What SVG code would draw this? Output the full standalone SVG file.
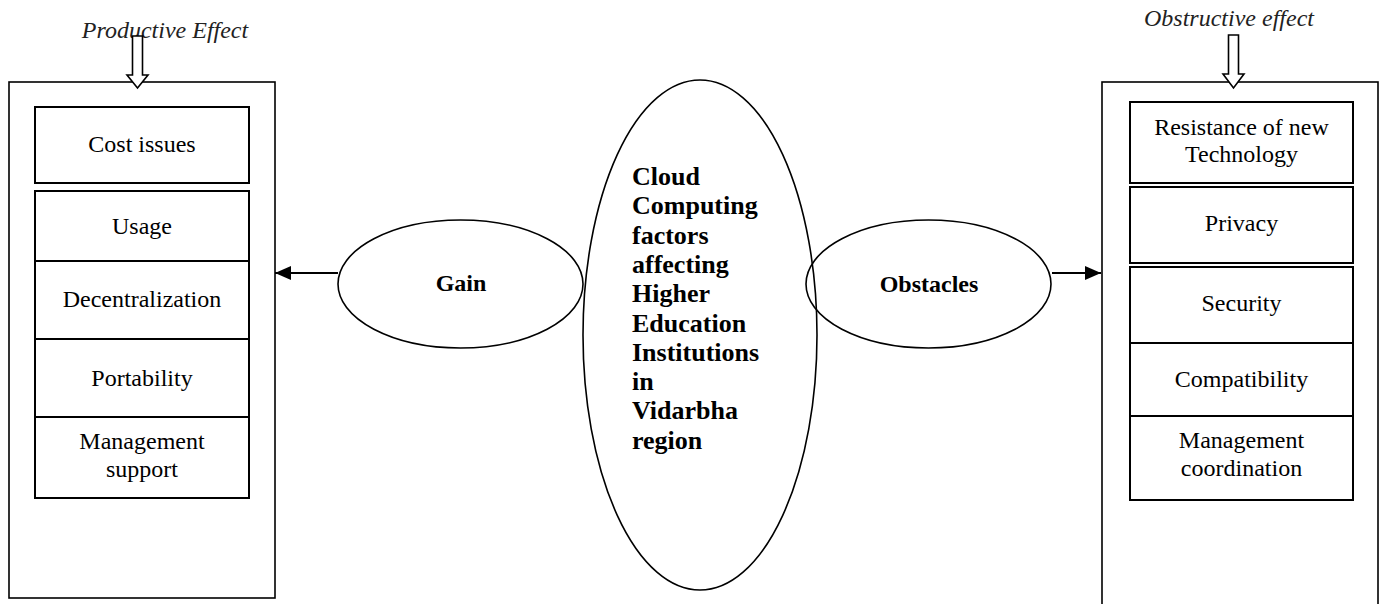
<svg xmlns="http://www.w3.org/2000/svg" width="1381" height="604" viewBox="0 0 1381 604">
  <defs>
    <style>
      .outer { fill: none; stroke: #000; stroke-width: 1.6; }
      .item { fill: #fff; stroke: #000; stroke-width: 2; }
      .oval { fill: none; stroke: #000; stroke-width: 1.6; }
      .hollow { fill: #fff; stroke: #000; stroke-width: 1.6; stroke-linejoin: miter; }
      .link { stroke: #000; stroke-width: 2.2; fill: none; }
      .t { font-family: "Liberation Serif", "Times New Roman", serif; font-size: 24px; fill: #000; text-anchor: middle; }
      .cap { font-family: "Liberation Serif", "Times New Roman", serif; font-size: 24px; font-style: italic; fill: #222; text-anchor: middle; }
      .b { font-family: "Liberation Serif", "Times New Roman", serif; font-size: 24px; font-weight: bold; fill: #000; text-anchor: middle; }
      .core { font-family: "Liberation Serif", "Times New Roman", serif; font-size: 26px; font-weight: bold; fill: #000; }
    </style>
    <marker id="head" viewBox="0 0 16 14" refX="16" refY="7" markerWidth="16" markerHeight="14" markerUnits="userSpaceOnUse" orient="auto">
      <path d="M0,0 L16,7 L0,14 Z" fill="#000"/>
    </marker>
  </defs>

  <!-- Productive effect panel -->
  <g id="productive">
    <text class="cap" x="165" y="38">Productive Effect</text>
    <rect class="outer" x="9" y="82" width="266" height="516"/>
    <path class="hollow" d="M132.5,36 H142.5 V75 H148 L137.5,88 L127,75 H132.5 Z"/>
    <g id="cost-issues">
      <rect class="item" x="35" y="107" width="214" height="76"/>
      <text class="t" x="142" y="152">Cost issues</text>
    </g>
    <g id="usage">
      <rect class="item" x="35" y="191" width="214" height="70"/>
      <text class="t" x="142" y="234">Usage</text>
    </g>
    <g id="decentralization">
      <rect class="item" x="35" y="261" width="214" height="78"/>
      <text class="t" x="142" y="307">Decentralization</text>
    </g>
    <g id="portability">
      <rect class="item" x="35" y="339" width="214" height="78"/>
      <text class="t" x="142" y="386">Portability</text>
    </g>
    <g id="management-support">
      <rect class="item" x="35" y="417" width="214" height="81"/>
      <text class="t" x="142" y="449">Management</text>
      <text class="t" x="142" y="477">support</text>
    </g>
  </g>

  <!-- Obstructive effect panel (runs past the bottom edge) -->
  <g id="obstructive">
    <text class="cap" x="1229" y="26">Obstructive effect</text>
    <rect class="outer" x="1102" y="82" width="276" height="540"/>
    <path class="hollow" d="M1228.5,35 H1238.5 V74 H1244 L1233.5,88 L1223,74 H1228.5 Z"/>
    <g id="resistance">
      <rect class="item" x="1130" y="102" width="223" height="81"/>
      <text class="t" x="1241.5" y="135">Resistance of new</text>
      <text class="t" x="1241.5" y="162">Technology</text>
    </g>
    <g id="privacy">
      <rect class="item" x="1130" y="187" width="223" height="76"/>
      <text class="t" x="1241.5" y="231">Privacy</text>
    </g>
    <g id="security">
      <rect class="item" x="1130" y="267" width="223" height="76"/>
      <text class="t" x="1241.5" y="311">Security</text>
    </g>
    <g id="compatibility">
      <rect class="item" x="1130" y="343" width="223" height="73"/>
      <text class="t" x="1241.5" y="387">Compatibility</text>
    </g>
    <g id="management-coordination">
      <rect class="item" x="1130" y="416" width="223" height="84"/>
      <text class="t" x="1241.5" y="448">Management</text>
      <text class="t" x="1241.5" y="476">coordination</text>
    </g>
  </g>

  <!-- Central topic -->
  <g id="cloud-factors">
    <ellipse class="oval" cx="700" cy="335" rx="117" ry="255"/>
    <text class="core" x="632" y="185">Cloud</text>
    <text class="core" x="632" y="214.3">Computing</text>
    <text class="core" x="632" y="243.6">factors</text>
    <text class="core" x="632" y="272.9">affecting</text>
    <text class="core" x="632" y="302.2">Higher</text>
    <text class="core" x="632" y="331.5">Education</text>
    <text class="core" x="632" y="360.8">Institutions</text>
    <text class="core" x="632" y="390.1">in</text>
    <text class="core" x="632" y="419.4">Vidarbha</text>
    <text class="core" x="632" y="448.7">region</text>
  </g>

  <g id="gain">
    <ellipse class="oval" cx="460.5" cy="284" rx="122.5" ry="64"/>
    <text class="b" x="461" y="291">Gain</text>
  </g>

  <g id="obstacles">
    <ellipse class="oval" cx="928.5" cy="284" rx="122.5" ry="64"/>
    <text class="b" x="929" y="292">Obstacles</text>
  </g>

  <!-- Connectors -->
  <g id="connectors">
    <line class="link" x1="338" y1="273" x2="275" y2="273" marker-end="url(#head)"/>
    <line class="link" x1="1052" y1="273" x2="1101" y2="273" marker-end="url(#head)"/>
  </g>
</svg>
